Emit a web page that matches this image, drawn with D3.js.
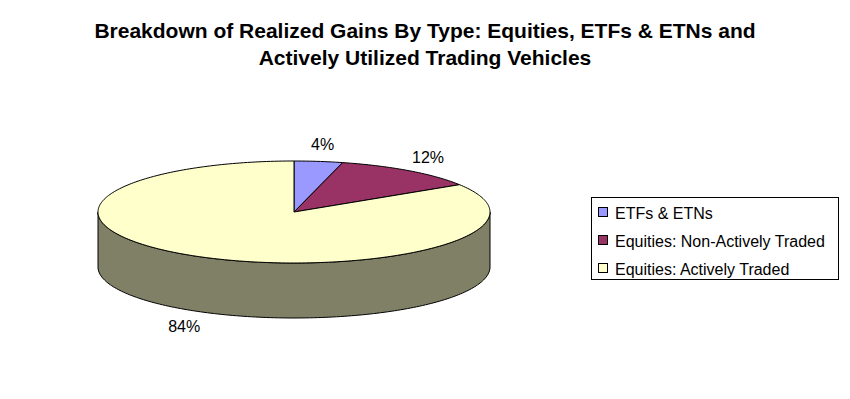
<!DOCTYPE html>
<html>
<head>
<meta charset="utf-8">
<script src="https://cdn.jsdelivr.net/npm/d3@7"></script>
<style>
body{margin:0;background:#fff;}
text{font-family:Arial,"Liberation Sans",sans-serif;}
</style>
</head>
<body>
<svg></svg>
<script>
var categories=["ETFs & ETNs","Equities: Non-Actively Traded","Equities: Actively Traded"];
var values=[4,12,84];
var labels=["4%","12%","84%"];
var topColors=["#9999FF","#993366","#FFFFCC"];
var sideColors=["#4D4D80","#4D1A33","#808066"];
var titleLines=["Breakdown of Realized Gains By Type: Equities, ETFs & ETNs and","Actively Utilized Trading Vehicles"];

var svgWidth=850, svgHeight=399;
var cx=294, cy=212, rx=196, ry=51, depth=55;

var svg=d3.select("svg")
    .attr("width",svgWidth)
    .attr("height",svgHeight);

// title
svg.selectAll(".title")
    .data(titleLines)
    .enter()
    .append("text")
    .attr("class","title")
    .attr("x",425)
    .attr("y",function(d,i){return 38+i*27;})
    .attr("text-anchor","middle")
    .style("font-size","21px")
    .style("font-weight","bold")
    .text(function(d){return d;});

var pie=d3.pie().sort(null).value(function(d){return d;});
var arcs=pie(values);

// angle measured clockwise from 12 o'clock -> point on the ellipse
function px(a){return cx+rx*Math.sin(a);}
function py(a){return cy-ry*Math.cos(a);}
function samples(a0,a1){
    var n=Math.max(2,Math.ceil((a1-a0)/0.02)), pts=[];
    for(var i=0;i<=n;i++){pts.push(a0+(a1-a0)*i/n);}
    return pts;
}
var line=d3.line();

// side walls (only front half, pi/2..3pi/2, is visible)
var g=svg.append("g").attr("stroke","#000").attr("stroke-width",1).attr("stroke-linejoin","round");
arcs.forEach(function(d,i){
    var a0=Math.max(d.startAngle,Math.PI/2), a1=Math.min(d.endAngle,Math.PI*1.5);
    if(a1<=a0) return;
    var s=samples(a0,a1);
    var pts=s.map(function(a){return [px(a),py(a)];})
        .concat(s.slice().reverse().map(function(a){return [px(a),py(a)+depth];}));
    g.append("path")
        .attr("d",line(pts)+"Z")
        .attr("fill",sideColors[i]);
});

// top faces
g.selectAll(".slice")
    .data(arcs)
    .enter()
    .append("path")
    .attr("class","slice")
    .attr("fill",function(d,i){return topColors[i];})
    .attr("d",function(d){
        var pts=[[cx,cy]].concat(samples(d.startAngle,d.endAngle).map(function(a){return [px(a),py(a)];}));
        return line(pts)+"Z";
    });

// percentage labels
svg.selectAll(".lbl")
    .data(arcs)
    .enter()
    .append("text")
    .attr("class","lbl")
    .attr("x",function(d){var m=(d.startAngle+d.endAngle)/2;return cx+228*Math.sin(m);})
    .attr("y",function(d){
        var m=(d.startAngle+d.endAngle)/2, c=Math.cos(m);
        return cy-68*c+(c<0?depth:0);
    })
    .attr("dy","0.35em")
    .attr("text-anchor","middle")
    .style("font-size","16px")
    .text(function(d,i){return labels[i];});

// legend
var legend=svg.append("g").attr("transform","translate(591,197)");
legend.append("rect")
    .attr("x",0.5).attr("y",0.5)
    .attr("width",247).attr("height",82)
    .attr("fill","#fff").attr("stroke","#000");
var item=legend.selectAll(".item")
    .data(categories)
    .enter()
    .append("g")
    .attr("class","item")
    .attr("transform",function(d,i){return "translate(7,"+(16+i*28)+")";});
item.append("rect")
    .attr("x",0.5).attr("y",-5.5)
    .attr("width",9).attr("height",9)
    .attr("fill",function(d,i){return topColors[i];})
    .attr("stroke","#000");
item.append("text")
    .attr("x",17)
    .attr("y",0)
    .attr("dy","0.35em")
    .style("font-size","16px")
    .text(function(d){return d;});
</script>
</body>
</html>
